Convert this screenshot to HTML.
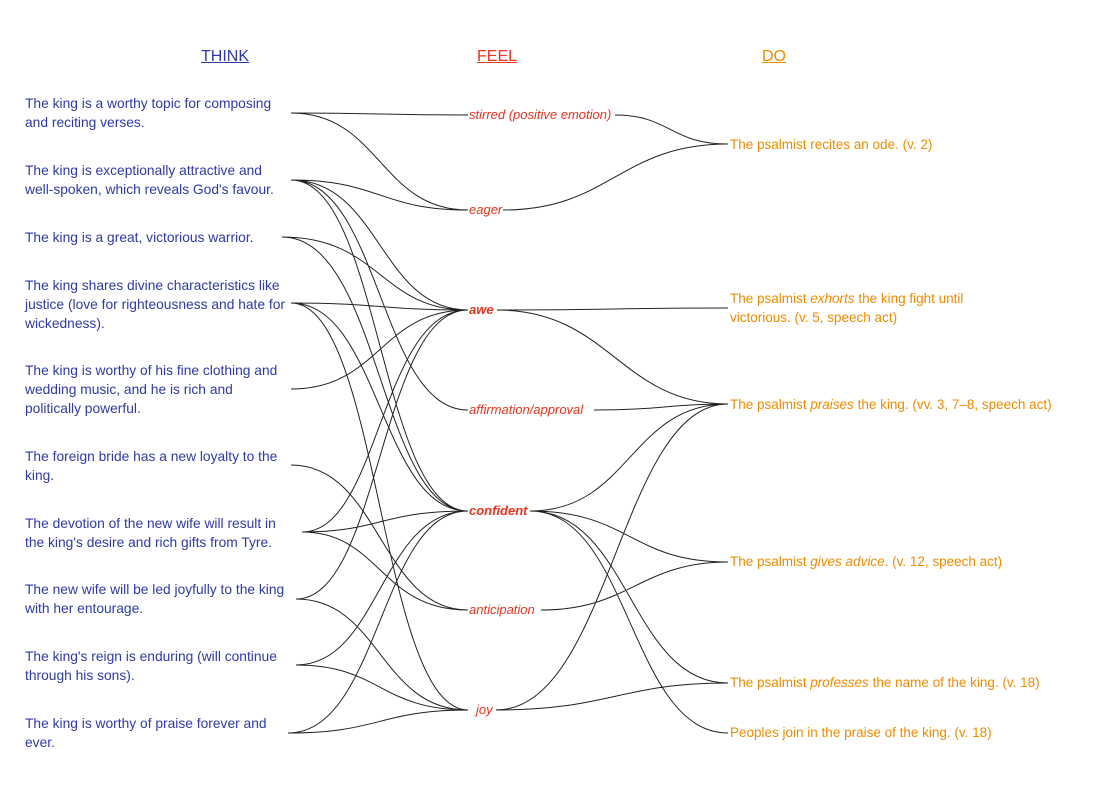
<!DOCTYPE html>
<html><head><meta charset="utf-8"><style>
body{margin:0;background:#fff;width:1110px;height:807px;overflow:hidden;font-family:"Liberation Sans",sans-serif}
svg{position:absolute;left:0;top:0}
.t{position:absolute;left:25px;color:#2e3aa8;font-size:13.8px;line-height:19px;width:280px}
.h{position:absolute;font-size:16px;text-decoration:underline;top:48px}
.f{position:absolute;color:#e8351e;font-size:13px;font-style:italic;line-height:16px;background:#fff}
.d{position:absolute;left:730px;color:#f08c00;font-size:13.5px;line-height:19px;background:#fff}
</style></head><body>
<svg width="1110" height="807" fill="none" stroke="#222" stroke-width="1">
<path d="M291 113C380 113 380 115 468 115M291 113C380 113 380 210 468 210
M291 180C380 180 380 210 468 210M291 180C380 180 380 310 468 310M291 180C380 180 380 410 468 410M291 180C380 180 380 511 468 511
M282 237C380 237 380 310 468 310M282 237C380 237 380 511 468 511
M291 303C380 303 380 310 468 310M291 303C380 303 380 511 468 511M291 303C380 303 380 511 468 511M291 303C380 303 380 710 468 710
M291 389C380 389 380 310 468 310
M291 465C380 465 380 610 468 610
M302 532C380 532 380 310 468 310M302 532C380 532 380 511 468 511M302 532C380 532 380 610 468 610
M296 599C380 599 380 310 468 310M296 599C380 599 380 710 468 710
M296 665C380 665 380 511 468 511M296 665C380 665 380 710 468 710
M288 733C380 733 380 511 468 511M288 733C380 733 380 710 468 710
M615 115C670 115 670 144 728 144M503 210C610 210 620 144 728 144
M497 310C610 310 620 308 728 308M497 310C610 310 620 404 728 404
M594 410C660 410 670 404 728 404
M530 511C630 511 630 404 728 404M530 511C630 511 630 562 728 562M530 511C630 511 630 683 728 683M530 511C630 511 630 733 728 733
M541 610C630 610 640 562 728 562
M496 710C610 710 620 404 728 404M496 710C610 710 620 683 728 683"/>
</svg>
<div class="h" style="left:201px;color:#2e3aa8">THINK</div>
<div class="h" style="left:477px;color:#e8351e">FEEL</div>
<div class="h" style="left:762px;color:#f08c00">DO</div>
<div class="t" style="top:94px">The king is a worthy topic for composing<br>and reciting verses.</div>
<div class="t" style="top:161px">The king is exceptionally attractive and<br>well-spoken, which reveals God's favour.</div>
<div class="t" style="top:228px">The king is a great, victorious warrior.</div>
<div class="t" style="top:276px">The king shares divine characteristics like<br>justice (love for righteousness and hate for<br>wickedness).</div>
<div class="t" style="top:361px">The king is worthy of his fine clothing and<br>wedding music, and he is rich and<br>politically powerful.</div>
<div class="t" style="top:447px">The foreign bride has a new loyalty to the<br>king.</div>
<div class="t" style="top:514px">The devotion of the new wife will result in<br>the king's desire and rich gifts from Tyre.</div>
<div class="t" style="top:580px">The new wife will be led joyfully to the king<br>with her entourage.</div>
<div class="t" style="top:647px">The king's reign is enduring (will continue<br>through his sons).</div>
<div class="t" style="top:714px">The king is worthy of praise forever and<br>ever.</div>
<div class="f" style="left:469px;top:107px">stirred (positive emotion)</div>
<div class="f" style="left:469px;top:202px">eager</div>
<div class="f" style="left:469px;top:302px;font-weight:bold">awe</div>
<div class="f" style="left:469px;top:402px">affirmation/approval</div>
<div class="f" style="left:469px;top:503px;font-weight:bold">confident</div>
<div class="f" style="left:469px;top:602px">anticipation</div>
<div class="f" style="left:476px;top:702px">joy</div>
<div class="d" style="top:135px">The psalmist recites an ode. (v. 2)</div>
<div class="d" style="top:289px">The psalmist <i>exhorts</i> the king fight until<br>victorious. (v. 5, speech act)</div>
<div class="d" style="top:395px">The psalmist <i>praises</i> the king. (vv. 3, 7–8, speech act)</div>
<div class="d" style="top:552px">The psalmist <i>gives advice</i>. (v. 12, speech act)</div>
<div class="d" style="top:673px">The psalmist <i>professes</i> the name of the king. (v. 18)</div>
<div class="d" style="top:723px">Peoples join in the praise of the king. (v. 18)</div>
</body></html>
